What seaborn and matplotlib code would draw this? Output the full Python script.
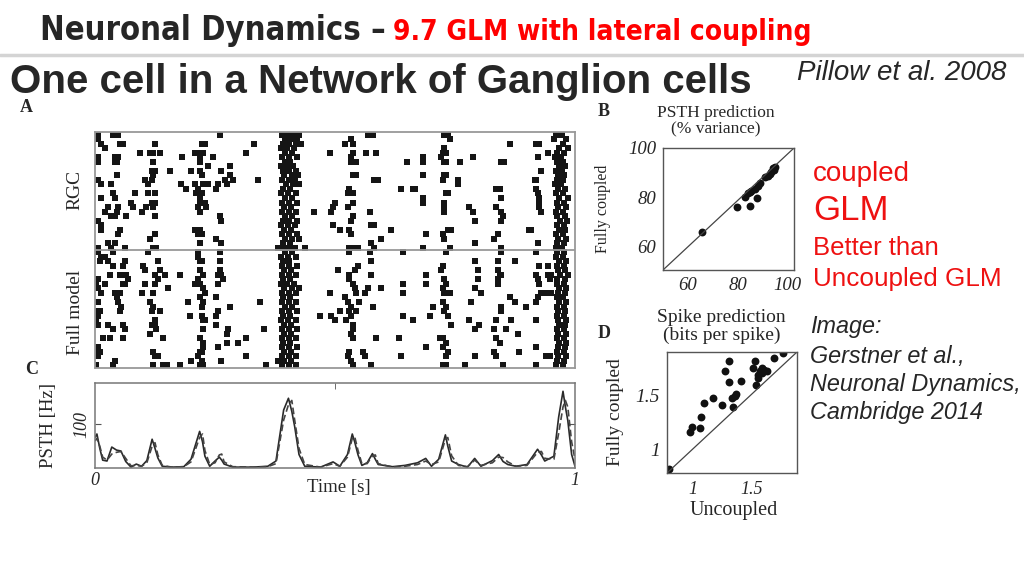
import matplotlib
matplotlib.use("Agg")
import matplotlib.pyplot as plt
import seaborn as sns
import pandas as pd
from matplotlib.lines import Line2D

# spike times (ms) per trial
rgc_spikes = [
    [6, 38, 48, 261, 390, 402, 414, 426, 568, 579, 728, 735, 961, 972],
    [6, 395, 408, 420, 534, 739, 957, 982],
    [13, 52, 58, 124, 222, 229, 332, 392, 404, 418, 430, 520, 537, 864, 919, 926, 975],
    [20, 388, 401, 415, 728, 966, 986],
    [93, 114, 121, 135, 208, 218, 225, 315, 396, 410, 489, 537, 565, 586, 725, 732, 944, 963, 978],
    [6, 41, 48, 182, 218, 246, 390, 405, 420, 534, 683, 721, 787, 923, 958, 970],
    [6, 41, 45, 121, 218, 395, 407, 534, 544, 650, 683, 728, 732, 760, 846, 853, 962, 976],
    [236, 281, 388, 399, 412, 966, 980],
    [118, 124, 156, 201, 218, 263, 392, 405, 418, 930, 960, 973],
    [45, 121, 222, 281, 394, 410, 422, 537, 544, 683, 728, 732, 964, 978],
    [6, 104, 118, 270, 288, 339, 390, 404, 416, 582, 589, 725, 756, 916, 919, 962, 974],
    [13, 34, 111, 180, 208, 225, 236, 256, 274, 398, 412, 426, 756, 958, 970],
    [190, 215, 253, 392, 406, 530, 638, 662, 666, 836, 843, 919, 965, 980],
    [38, 83, 111, 124, 211, 222, 388, 402, 418, 527, 537, 732, 735, 923, 960, 975],
    [13, 41, 218, 395, 410, 683, 846, 926, 967, 985],
    [76, 118, 124, 218, 229, 390, 404, 420, 499, 537, 683, 728, 926, 962, 978],
    [27, 48, 79, 107, 121, 215, 232, 393, 408, 496, 527, 728, 780, 836, 926, 965, 982],
    [20, 45, 97, 218, 390, 404, 418, 457, 492, 572, 728, 787, 846, 930, 960, 976],
    [34, 41, 65, 124, 260, 396, 410, 537, 850, 963, 979],
    [6, 263, 392, 405, 420, 534, 791, 846, 968, 984],
    [13, 388, 402, 416, 496, 575, 582, 962, 977],
    [13, 52, 208, 218, 394, 408, 510, 530, 617, 735, 742, 905, 909, 966, 980],
    [48, 124, 215, 222, 390, 404, 420, 534, 690, 725, 840, 960, 975],
    [114, 253, 396, 410, 424, 596, 728, 832, 964, 982],
    [27, 41, 218, 263, 392, 406, 575, 791, 923, 962, 978],
    [6, 34, 62, 121, 128, 381, 392, 404, 416, 437, 530, 541, 548, 582, 683, 739, 846, 960, 972],
]
model_spikes = [
    [6, 38, 111, 215, 260, 395, 410, 530, 572, 641, 732, 846, 919, 962, 978],
    [13, 20, 215, 388, 402, 418, 960, 975],
    [10, 27, 62, 131, 218, 222, 260, 392, 405, 575, 791, 839, 874, 966, 982],
    [38, 58, 100, 390, 404, 420, 548, 725, 926, 944, 962, 978],
    [104, 135, 218, 260, 394, 408, 506, 541, 721, 798, 839, 964, 980],
    [31, 52, 65, 124, 145, 177, 225, 256, 263, 390, 405, 418, 530, 575, 690, 843, 846, 919, 944, 950, 968, 985],
    [6, 69, 131, 215, 267, 392, 406, 530, 728, 798, 839, 923, 947, 962, 980],
    [3, 20, 58, 62, 104, 124, 208, 218, 256, 388, 400, 414, 537, 641, 690, 732, 839, 926, 962, 978],
    [6, 152, 225, 394, 410, 424, 541, 568, 596, 725, 791, 966, 982],
    [13, 41, 52, 97, 121, 229, 390, 404, 418, 489, 544, 562, 641, 728, 739, 805, 930, 940, 950, 964, 980],
    [45, 218, 253, 392, 406, 520, 864, 923, 962, 976],
    [6, 48, 114, 194, 225, 343, 390, 404, 418, 527, 551, 725, 784, 874, 919, 966, 982],
    [55, 121, 222, 281, 395, 410, 534, 579, 704, 732, 846, 898, 962, 978],
    [3, 10, 52, 118, 135, 256, 390, 404, 420, 510, 530, 544, 728, 846, 964, 980],
    [0, 6, 197, 222, 253, 392, 406, 468, 492, 534, 641, 697, 735, 962, 978],
    [3, 124, 225, 229, 388, 402, 418, 499, 523, 662, 780, 836, 867, 919, 964, 982],
    [6, 27, 58, 118, 124, 253, 394, 408, 537, 742, 801, 966, 980],
    [38, 62, 128, 225, 277, 353, 390, 404, 420, 537, 791, 832, 857, 962, 978],
    [114, 274, 394, 408, 534, 881, 964, 982],
    [17, 31, 58, 142, 218, 315, 390, 404, 418, 537, 586, 634, 718, 725, 836, 962, 978],
    [225, 274, 298, 392, 406, 732, 843, 966, 982],
    [6, 225, 256, 390, 404, 420, 690, 725, 919, 964, 980],
    [3, 10, 121, 218, 222, 394, 408, 530, 558, 735, 832, 884, 962, 978],
    [6, 124, 131, 215, 315, 390, 404, 418, 527, 562, 638, 732, 791, 836, 940, 947, 964, 982],
    [41, 201, 222, 263, 381, 394, 408, 534, 962, 978],
    [3, 38, 121, 142, 149, 177, 218, 225, 357, 390, 404, 418, 537, 575, 725, 732, 770, 850, 919, 960, 975],
]

# panel C: PSTH (Hz), data (solid) and model (dashed)
psth_t = [0.000, 0.004, 0.010, 0.016, 0.025, 0.035, 0.045, 0.054, 0.064, 0.075,
          0.086, 0.097, 0.108, 0.119, 0.125, 0.131, 0.140, 0.160, 0.185, 0.200,
          0.218, 0.224, 0.229, 0.239, 0.250, 0.259, 0.264, 0.269, 0.287, 0.330,
          0.360, 0.377, 0.393, 0.403, 0.410, 0.416, 0.425, 0.437, 0.470, 0.496,
          0.510, 0.526, 0.536, 0.541, 0.548, 0.556, 0.567, 0.578, 0.584, 0.590,
          0.620, 0.646, 0.672, 0.689, 0.701, 0.716, 0.730, 0.735, 0.743, 0.757,
          0.776, 0.791, 0.804, 0.828, 0.841, 0.850, 0.860, 0.877, 0.900, 0.922,
          0.930, 0.937, 0.956, 0.966, 0.975, 0.980, 0.985, 0.993, 1.000]
psth_data = [70, 78, 45, 18, 16, 48, 41, 39, 15, 2,
             9, 4, 17, 66, 45, 23, 4, 2, 3, 20,
             84, 60, 27, 4, 16, 25, 18, 9, 2, 2,
             4, 16, 133, 160, 130, 95, 31, 4, 2, 14,
             4, 31, 78, 60, 30, 6, 12, 33, 20, 8,
             3, 6, 12, 22, 4, 20, 76, 50, 16, 8,
             2, 22, 4, 17, 31, 15, 8, 4, 8, 43,
             30, 16, 27, 117, 176, 140, 109, 31, 4]
psth_model = [62, 68, 50, 25, 18, 32, 36, 38, 22, 5,
              6, 4, 12, 50, 58, 30, 6, 2, 3, 14,
              70, 78, 40, 8, 12, 30, 32, 14, 3, 2,
              3, 10, 110, 145, 155, 110, 45, 8, 2, 10,
              4, 25, 68, 72, 40, 10, 10, 28, 30, 10,
              2, 4, 8, 16, 8, 14, 66, 70, 28, 6,
              3, 18, 6, 12, 25, 24, 14, 4, 6, 36,
              38, 22, 20, 80, 140, 155, 140, 60, 20]

# panel B: PSTH prediction (% variance)
b_uncoupled = [65.7, 79.6, 84.7, 87.7, 82.7, 84.0, 85.3, 86.7, 88.0, 88.7,
               91.0, 92.7, 93.3, 94.4, 95.0, 94.0, 92.0, 84.7]
b_coupled = [66.1, 76.2, 76.6, 79.7, 80.3, 81.6, 82.7, 83.4, 84.7, 85.8,
             88.1, 89.5, 90.4, 91.2, 92.2, 91.8, 88.8, 82.0]

# panel D: spike prediction (bits per spike)
d_uncoupled = [0.79, 0.97, 0.99, 1.06, 1.07, 1.09, 1.17, 1.25, 1.27, 1.31,
               1.31, 1.33, 1.34, 1.36, 1.37, 1.41, 1.53, 1.51, 1.54, 1.56,
               1.57, 1.59, 1.61, 1.63, 1.69, 1.77, 1.56, 1.59]
d_coupled = [0.82, 1.16, 1.21, 1.20, 1.30, 1.43, 1.47, 1.41, 1.72, 1.82,
             1.62, 1.47, 1.39, 1.49, 1.51, 1.63, 1.82, 1.75, 1.59, 1.69,
             1.72, 1.75, 1.73, 1.72, 1.84, 1.89, 1.66, 1.71]

sns.set_style("white")
plt.rcParams["font.family"] = ["Liberation Sans", "DejaVu Sans"]
SERIF = ["Liberation Serif", "DejaVu Serif"]

W, H = 1024, 576
fig = plt.figure(figsize=(W / 100, H / 100), dpi=100)


def box(x0, y0, x1, y1):
    return fig.add_axes([x0 / W, 1 - y1 / H, (x1 - x0) / W, (y1 - y0) / H])


def ftext(x, y, s, **kw):
    return fig.text(x / W, 1 - y / H, s, **kw)


# header
ftext(40, 40, "Neuronal Dynamics \u2013", fontsize=23.5, weight="bold", family="DejaVu Sans",
      fontstretch="condensed", va="baseline")
ftext(393, 40, "9.7 GLM with lateral coupling", fontsize=20.2, weight="bold",
      color="#ff0000", family="DejaVu Sans", fontstretch="condensed", va="baseline")
fig.add_artist(Line2D([0, 1], [1 - 55 / H, 1 - 55 / H], transform=fig.transFigure,
                      color="#d4d4d4", lw=2.5))
ftext(10, 93, "One cell in a Network of Ganglion cells", fontsize=29, weight="bold",
      va="baseline")
ftext(797, 73, "Pillow et al. 2008", fontsize=20, style="italic", va="center")

# panel A: raster
rows = []
for i, r in enumerate(rgc_spikes):
    rows += [(t, i) for t in r]
for i, r in enumerate(model_spikes):
    rows += [(t, i + len(rgc_spikes)) for t in r]
raster = pd.DataFrame(rows, columns=["time", "trial"])

ax = box(95, 132, 575, 368)
sns.scatterplot(data=raster, x="time", y="trial", marker="s", s=16, color="#151515",
                linewidth=0, ax=ax, legend=False)
ax.set_xlim(0, 1000)
ax.set_ylim(51.6, -0.6)
ax.axhline(25.5, color="#999999", lw=1.3)
ax.set_xticks([]); ax.set_yticks([])
ax.set_xlabel(""); ax.set_ylabel("")
for s in ax.spines.values():
    s.set_color("#999999"); s.set_linewidth(1.3)
ftext(20, 108, "A", family=SERIF, weight="bold", fontsize=13, va="center")
ftext(75, 190, "RGC", family=SERIF, fontsize=14, rotation=90, ha="center", va="center")
ftext(75, 312, "Full model", family=SERIF, fontsize=14, rotation=90, ha="center", va="center")

# panel C: PSTH
psth = pd.DataFrame({"t": psth_t, "data": psth_data, "model": psth_model})
axc = box(95, 383, 575, 468)
sns.lineplot(data=psth, x="t", y="data", color="#2a2a2a", lw=1.2, ax=axc)
sns.lineplot(data=psth, x="t", y="model", color="#444444", lw=1.2,
             linestyle=(0, (4, 2)), ax=axc)
axc.set_xlim(0, 1)
axc.set_ylim(0, 195)
axc.set_yticks([100])
axc.set_yticklabels(["100"], rotation=90, va="center", family=SERIF, style="italic", fontsize=13)
axc.set_xticks([0, 1])
axc.set_xticklabels(["0", "1"], family=SERIF, style="italic", fontsize=13)
axc.set_xticks([0.5], minor=True)
axc.tick_params(axis="y", direction="in", length=4, left=True, right=True, pad=3, color="#555")
axc.tick_params(axis="x", which="major", length=0, pad=3)
axc.tick_params(axis="x", which="minor", direction="in", length=4, top=True, bottom=False, color="#555")
axc.set_xlabel("")
axc.set_ylabel("PSTH [Hz]", family=SERIF, fontsize=13.5)
axc.yaxis.set_label_coords(-0.08, 0.5)
axc.text(0.508, -0.225, "Time [s]", transform=axc.transAxes, family=SERIF, fontsize=13.5,
         ha="center", va="center")
for s in axc.spines.values():
    s.set_color("#777777"); s.set_linewidth(1.1)
ftext(25, 370, "C", family=SERIF, weight="bold", fontsize=13, va="center")

# panel B
axb = box(663, 148, 794, 270)
sns.scatterplot(x=b_uncoupled, y=b_coupled, s=32, color="#111111", linewidth=0, ax=axb)
axb.plot([0, 1], [0, 1], transform=axb.transAxes, color="#444444", lw=0.9)
axb.set_xlim(50, 102.5)
axb.set_ylim(50.5, 100)
axb.set_xticks([60, 80, 100]); axb.set_yticks([60, 80, 100])
for lab in axb.get_xticklabels() + axb.get_yticklabels():
    lab.set_family(SERIF); lab.set_style("italic"); lab.set_fontsize(13.5)
axb.tick_params(length=0, pad=5)
axb.set_ylabel("Fully coupled", family=SERIF, fontsize=11.5)
axb.yaxis.set_label_coords(-0.40, 0.5)
axb.text(0.40, 1.22, "PSTH prediction\n(% variance)", transform=axb.transAxes,
         family=SERIF, fontsize=12.5, ha="center", va="center", linespacing=1.0)
for s in axb.spines.values():
    s.set_color("#555555"); s.set_linewidth(1.0)
ftext(598, 111, "B", family=SERIF, weight="bold", fontsize=13, va="center")

# panel D
axd = box(667, 352, 797, 473)
sns.scatterplot(x=d_uncoupled, y=d_coupled, s=32, color="#111111", linewidth=0, ax=axd)
axd.plot([0, 1], [0, 1], transform=axd.transAxes, color="#444444", lw=0.9)
axd.set_xlim(0.777, 1.89)
axd.set_ylim(0.78, 1.9)
axd.set_xticks([1, 1.5]); axd.set_yticks([1, 1.5])
axd.set_xticklabels(["1", "1.5"]); axd.set_yticklabels(["1", "1.5"])
for lab in axd.get_xticklabels():
    lab.set_family(SERIF); lab.set_style("italic"); lab.set_fontsize(13)
for lab in axd.get_yticklabels():
    lab.set_family(SERIF); lab.set_style("italic"); lab.set_fontsize(14)
axd.tick_params(axis="x", length=0, pad=6)
axd.tick_params(axis="y", length=0, pad=5)
axd.set_ylabel("Fully coupled", family=SERIF, fontsize=14)
axd.yaxis.set_label_coords(-0.33, 0.5)
axd.text(0.51, -0.31, "Uncoupled", transform=axd.transAxes, family=SERIF, fontsize=14.5,
         ha="center", va="center")
axd.text(0.42, 1.21, "Spike prediction\n(bits per spike)", transform=axd.transAxes,
         family=SERIF, fontsize=14, ha="center", va="center", linespacing=1.0)
for s in axd.spines.values():
    s.set_color("#555555"); s.set_linewidth(1.0)
ftext(598, 333, "D", family=SERIF, weight="bold", fontsize=13, va="center")

# annotations on the right
RED = "#ee1111"
ftext(813, 174, "coupled", color=RED, fontsize=20, va="center")
ftext(813, 211, "GLM", color=RED, fontsize=25, va="center")
ftext(813, 248, "Better than", color=RED, fontsize=18.5, va="center")
ftext(813, 279, "Uncoupled GLM", color=RED, fontsize=18.8, va="center")
ftext(810, 326, "Image:", fontsize=16.8, style="italic", va="center")
ftext(810, 356, "Gerstner et al.,", fontsize=16.8, style="italic", va="center")
ftext(810, 384, "Neuronal Dynamics,", fontsize=16.8, style="italic", va="center")
ftext(810, 412, "Cambridge 2014", fontsize=16.8, style="italic", va="center")

fig.savefig("out.png", dpi=100)
